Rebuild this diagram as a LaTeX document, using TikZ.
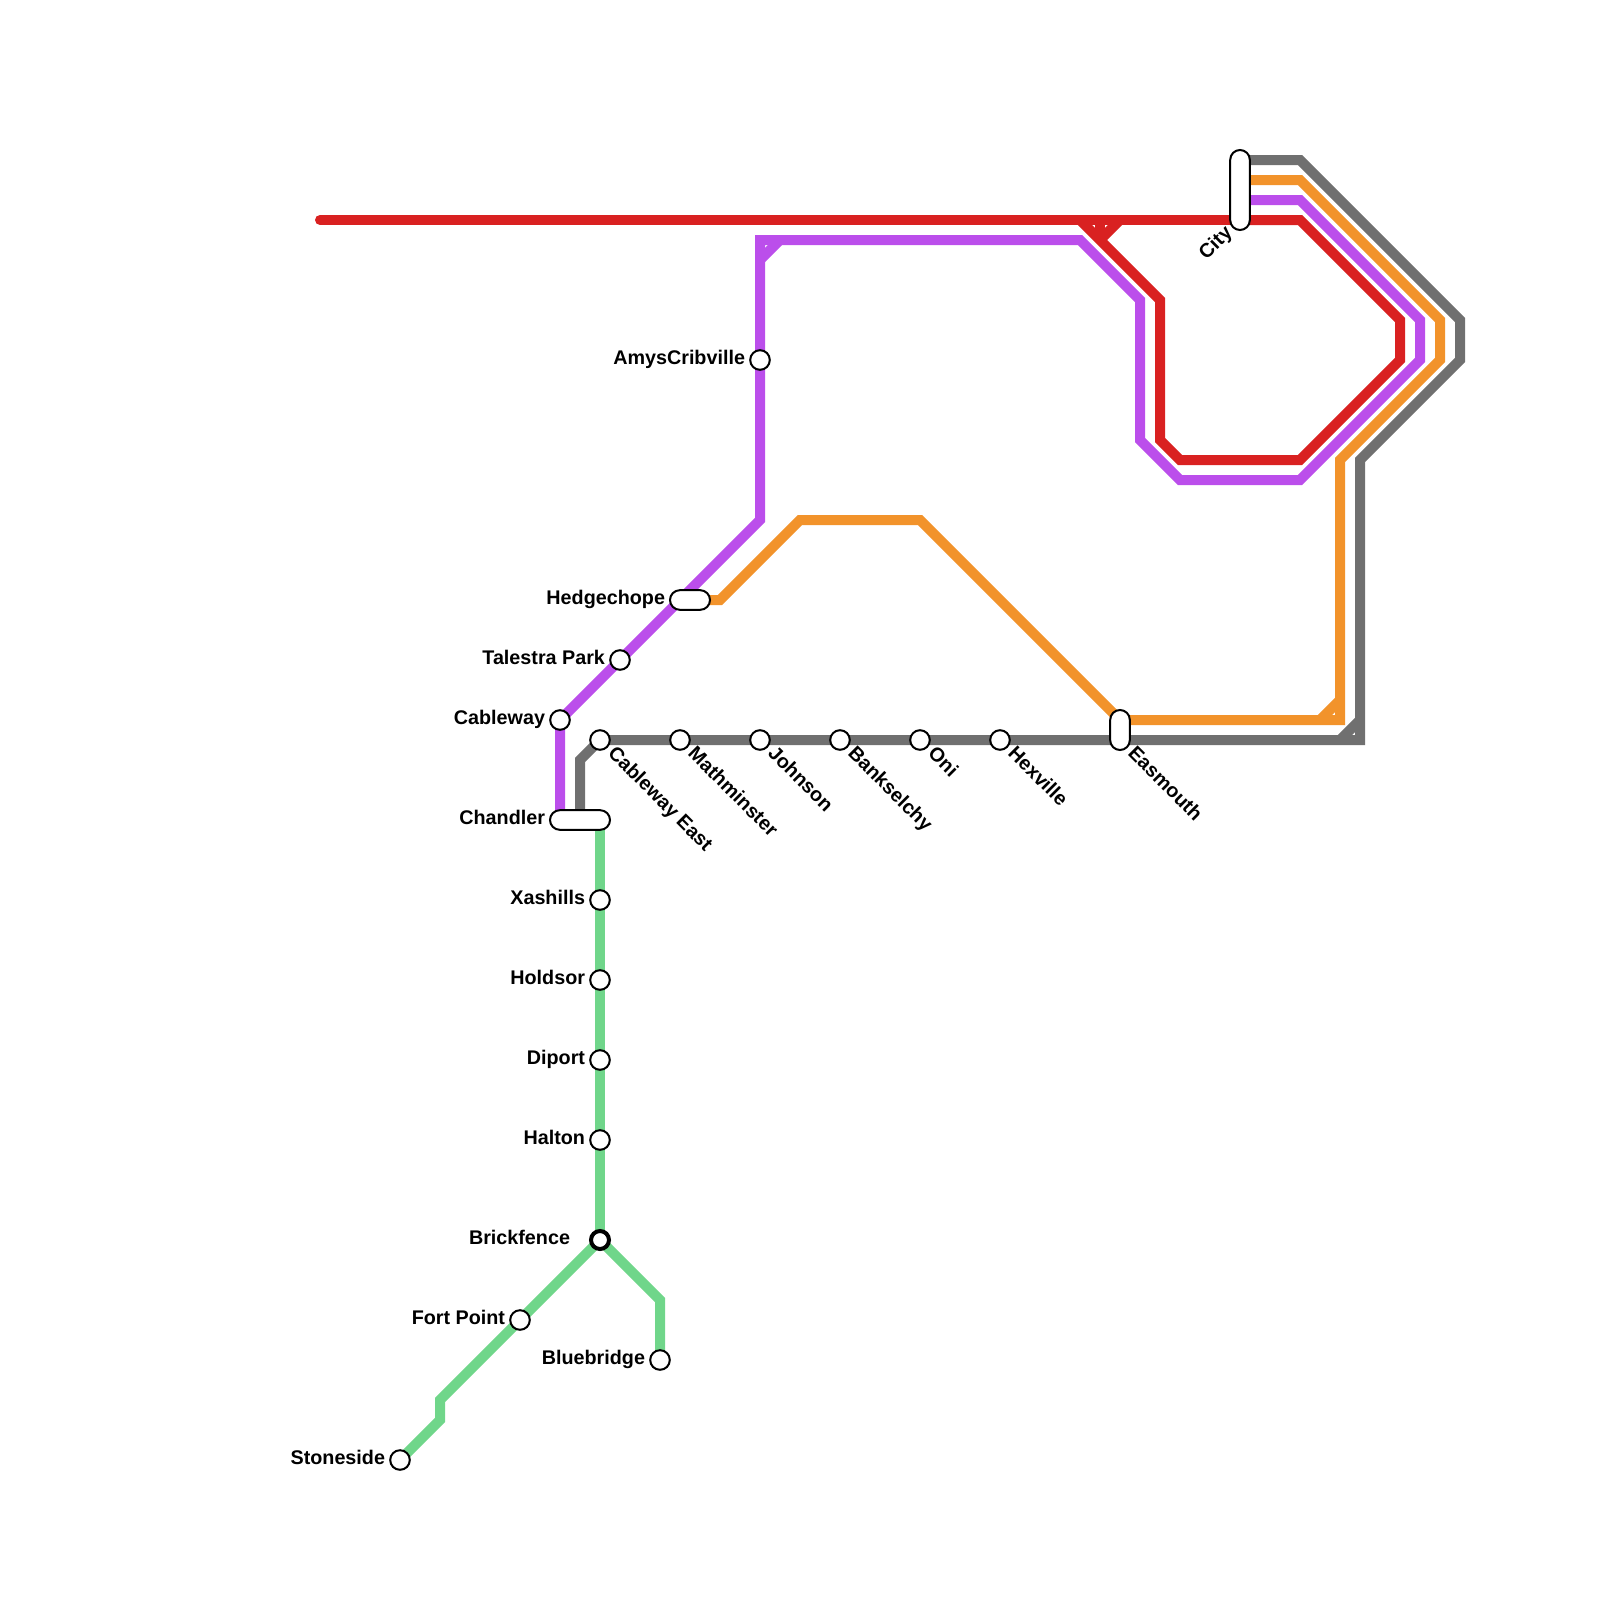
\documentclass[tikz,border=0pt]{standalone}
\usepackage{fontspec}
\setmainfont{Liberation Sans}
\usetikzlibrary{backgrounds}
\definecolor{cred}{HTML}{D92121}
\definecolor{cpurple}{HTML}{BB4EEB}
\definecolor{corange}{HTML}{F2932B}
\definecolor{cgray}{HTML}{707070}
\definecolor{cgreen}{HTML}{70D68A}
\tikzset{
  x=1pt,y=-1pt,
  stn/.style={circle,draw=black,fill=white,line width=2pt,minimum size=19.6pt,inner sep=0pt,outer sep=0pt},
  hub/.style={stn,line width=4pt,minimum size=18pt},
  pill/.style={rectangle,draw=black,fill=white,line width=2pt,rounded corners=9.8pt,inner sep=0pt,outer sep=0pt},
  txt/.style={font=\fontsize{19.75}{21}\selectfont\bfseries,text=black,inner sep=0pt,outer sep=0pt},
  lbl/.style={txt,anchor=base east},
  lbld/.style={txt,anchor=base west,rotate=-45},
  lblu/.style={txt,anchor=base east,rotate=45},
  route/.style={line width=10pt,line join=miter,line cap=butt}
}
\begin{document}
\begin{tikzpicture}
\useasboundingbox (0,0) rectangle (1600,1600);

% stations
\node[stn] (amys) at (760,360) {};
\node[pill,minimum width=40pt,minimum height=19.6pt] (hedge) at (690,600) {};
\node[stn] (talestra) at (620,660) {};
\node[stn] (cableway) at (560,720) {};
\node[stn] (cabeast) at (600,740) {};
\node[stn] (math) at (680,740) {};
\node[stn] (johnson) at (760,740) {};
\node[stn] (bank) at (840,740) {};
\node[stn] (oni) at (920,740) {};
\node[stn] (hex) at (1000,740) {};
\node[pill,minimum width=19.6pt,minimum height=40pt] (eas) at (1120,730) {};
\node[pill,minimum width=60pt,minimum height=19.6pt] (chandler) at (580,820) {};
\node[stn] (xash) at (600,900) {};
\node[stn] (hold) at (600,980) {};
\node[stn] (dip) at (600,1060) {};
\node[stn] (halt) at (600,1140) {};
\node[hub] (brick) at (600,1240) {};
\node[stn] (fort) at (520,1320) {};
\node[stn] (blue) at (660,1360) {};
\node[stn] (stone) at (400,1460) {};
\node[pill,minimum width=19.6pt,minimum height=80pt] (city) at (1240,190) {};

% labels
\node[lbl] (tamys) at (745,364.6) {AmysCribville};
\node[lbl] (thedge) at (665,604.6) {Hedgechope};
\node[lbl] (ttal) at (605,664.6) {Talestra Park};
\node[lbl] (tcab) at (545,724.6) {Cableway};
\node[lbl] (tchan) at (545,824.6) {Chandler};
\node[lbl] (txash) at (585,904.6) {Xashills};
\node[lbl] (thold) at (585,984.6) {Holdsor};
\node[lbl] (tdip) at (585,1064.6) {Diport};
\node[lbl] (thalt) at (585,1144.6) {Halton};
\node[lbl] (tbrick) at (570,1244.6) {Brickfence};
\node[lbl] (tfort) at (505,1324.6) {Fort Point};
\node[lbl] (tblue) at (645,1364.6) {Bluebridge};
\node[lbl] (tstone) at (385,1464.6) {Stoneside};
\node[lbld] (tcabe) at (607,754.6) {Cableway East};
\node[lbld] (tmath) at (687,754.6) {Mathminster};
\node[lbld] (tjohn) at (767,754.6) {Johnson};
\node[lbld] (tbank) at (847,754.6) {Bankselchy};
\node[lbld] (toni) at (927,754.6) {Oni};
\node[lbld] (thex) at (1007,754.6) {Hexville};
\node[lbld] (teas) at (1127,754.6) {Easmouth};
\node[lblu] (tcity) at (1233,234) {City};

% way-points
\coordinate (citygray) at (1240,160);
\coordinate (cityorange) at (1240,180);
\coordinate (citypurple) at (1240,200);
\coordinate (cityred) at (1240,220);
\coordinate (redstart) at (320,220);
\coordinate (hedgeR) at (700,600);
\coordinate (easT) at (1120,720);
\coordinate (easB) at (1120,740);
\coordinate (chanL) at (560,820);
\coordinate (chanC) at (580,820);
\coordinate (chanR) at (600,820);

\begin{scope}[on background layer]
% green
\draw[route,cgreen] (chanR) -- (brick.center);
\draw[route,cgreen] (brick.center) -- (fort.center) -- (440,1400) -- (440,1420) -- (stone.center);
\draw[route,cgreen] (brick.center) -- (660,1300) -- (blue.center);
% gray
\draw[route,cgray] (citygray) -- (1300,160) -- (1460,320) -- (1460,360) -- (1360,460) -- (1360,740) -- (easB) -- (cabeast.center) -- (580,760) -- (chanC);
\draw[route,cgray] (1360,720) -- (1340,740);
% orange
\draw[route,corange] (cityorange) -- (1300,180) -- (1440,320) -- (1440,360) -- (1340,460) -- (1340,720) -- (easT) -- (920,520) -- (800,520) -- (720,600) -- (hedgeR);
\draw[route,corange] (1340,700) -- (1320,720);
% purple
\draw[route,cpurple] (citypurple) -- (1300,200) -- (1420,320) -- (1420,360) -- (1300,480) -- (1180,480) -- (1140,440) -- (1140,300) -- (1080,240) -- (760,240) -- (760,520) -- (cableway.center) -- (chanL);
\draw[route,cpurple] (780,240) -- (760,260);
% red
\draw[route,cred,line cap=round] (redstart) -- (cityred);
\draw[route,cred] (cityred) -- (1300,220) -- (1400,320) -- (1400,360) -- (1300,460) -- (1180,460) -- (1160,440) -- (1160,300) -- (1080,220);
\draw[route,cred] (1100,220) -- (1100,240);
\draw[route,cred] (1120,220) -- (1100,240);
\end{scope}
\end{tikzpicture}
\end{document}
